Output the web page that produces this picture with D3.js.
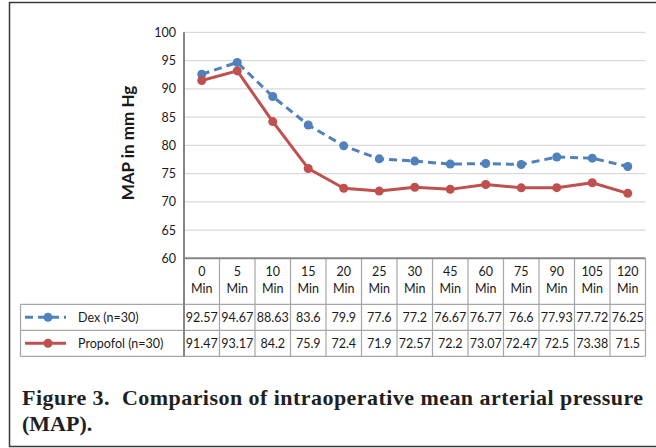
<!DOCTYPE html>
<html>
<head>
<meta charset="utf-8">
<script src="https://cdn.jsdelivr.net/npm/d3@7"></script>
<style>
  body { margin: 0; background: #fff; }
  text { font-family: Lato, "Open Sans", sans-serif; fill: #1a1a1a; }
  .cap { font-family: "Liberation Serif", "DejaVu Serif", serif; font-weight: bold; fill: #231f20; }
</style>
</head>
<body>
<div id="chart"></div>
<script>
// Data
const categories = ["0", "5", "10", "15", "20", "25", "30", "45", "60", "75", "90", "105", "120"];
const dex = [92.57, 94.67, 88.63, 83.6, 79.9, 77.6, 77.2, 76.67, 76.77, 76.6, 77.93, 77.72, 76.25];
const propofol = [91.47, 93.17, 84.2, 75.9, 72.4, 71.9, 72.57, 72.2, 73.07, 72.47, 72.5, 73.38, 71.5];
const yTicks = [60, 65, 70, 75, 80, 85, 90, 95, 100];
const seriesNames = ["Dex (n=30)", "Propofol (n=30)"];

const width = 656, height = 448;
const plot = { left: 184, right: 645.5, top: 32.3, bottom: 258.3 };
const rowH = [46, 26, 26];

const svg = d3.select("#chart").append("svg")
    .attr("width", width)
    .attr("height", height);

// Frame around the figure
svg.append("path")
    .attr("d", `M${width + 2},2.5 H9.5 V446.5 H${width + 2}`)
    .attr("fill", "none")
    .attr("stroke", "#3a3a3a")
    .attr("stroke-width", 1.5);

const x = d3.scaleBand().domain(categories).range([plot.left, plot.right]);
const y = d3.scaleLinear().domain([60, 100]).range([plot.bottom, plot.top]);

// Gridlines
svg.append("g").selectAll("line")
    .data(yTicks.filter(t => t > 60))
    .join("line")
    .attr("x1", plot.left).attr("x2", plot.right)
    .attr("y1", d => y(d)).attr("y2", d => y(d))
    .attr("stroke", "#d9d9d9")
    .attr("stroke-width", 1.2);

// Y axis
const yAxis = svg.append("g")
    .attr("transform", `translate(${plot.left},0)`)
    .call(d3.axisLeft(y).tickValues(yTicks).tickSize(0).tickPadding(8));
yAxis.select(".domain").remove();
yAxis.selectAll("text")
    .style("font-family", "Lato, sans-serif")
    .style("font-size", "12.5px")
    .attr("fill", "#1a1a1a");

svg.append("text")
    .attr("transform", `translate(134,143) rotate(-90)`)
    .attr("text-anchor", "middle")
    .style("font-size", "17px")
    .style("font-weight", "bold")
    .attr("fill", "#000")
    .text("MAP in mm Hg");

// Table
const tTop = plot.bottom;
const r1 = tTop + rowH[0], r2 = r1 + rowH[1], r3 = r2 + rowH[2];
const tableLeft = 20.5;
const tbl = svg.append("g").attr("stroke", "#a6a6a6").attr("stroke-width", 1.2);

// horizontal lines
tbl.append("line").attr("x1", tableLeft).attr("x2", plot.right).attr("y1", r1).attr("y2", r1);
tbl.append("line").attr("x1", tableLeft).attr("x2", plot.right).attr("y1", r2).attr("y2", r2);
tbl.append("line").attr("x1", tableLeft).attr("x2", plot.right).attr("y1", r3).attr("y2", r3);
tbl.append("line").attr("x1", tableLeft).attr("x2", tableLeft).attr("y1", r1).attr("y2", r3);
// column lines
tbl.selectAll(".col")
    .data(categories)
    .join("line")
    .attr("x1", d => x(d) + x.bandwidth()).attr("x2", d => x(d) + x.bandwidth())
    .attr("y1", tTop).attr("y2", r3);

// top border of table / x axis and y axis line
svg.append("line")
    .attr("x1", plot.left).attr("x2", plot.right)
    .attr("y1", tTop).attr("y2", tTop)
    .attr("stroke", "#868686").attr("stroke-width", 2);
svg.append("line")
    .attr("x1", plot.left).attr("x2", plot.left)
    .attr("y1", plot.top).attr("y2", r3)
    .attr("stroke", "#868686").attr("stroke-width", 2);

// header text
const head = svg.append("g").attr("text-anchor", "middle").style("font-size", "12.5px");
head.selectAll(".h1").data(categories).join("text")
    .attr("x", d => x(d) + x.bandwidth() / 2).attr("y", tTop + 18)
    .text(d => d);
head.selectAll(".h2").data(categories).join("text")
    .attr("x", d => x(d) + x.bandwidth() / 2).attr("y", tTop + 35)
    .text("Min");

// values
const colors = ["#4f81bd", "#c0504d"];
const series = [dex, propofol];
const rowsY = [r1, r2];
series.forEach((vals, s) => {
    svg.append("g").attr("text-anchor", "middle").style("font-size", "12.5px")
        .selectAll("text").data(vals).join("text")
        .attr("x", (d, i) => x(categories[i]) + x.bandwidth() / 2)
        .attr("y", rowsY[s] + 17.5)
        .text(d => d);

    // legend key
    const ly = rowsY[s] + 13;
    svg.append("line")
        .attr("x1", 25).attr("x2", 66).attr("y1", ly).attr("y2", ly)
        .attr("stroke", colors[s]).attr("stroke-width", 3)
        .attr("stroke-dasharray", s === 0 ? "8,5" : null);
    svg.append("circle").attr("cx", 48).attr("cy", ly).attr("r", 4.5).attr("fill", colors[s]);
    svg.append("text").attr("x", 78).attr("y", rowsY[s] + 17.5)
        .style("font-size", "12.5px").text(seriesNames[s]);
});

// lines
const line = d3.line()
    .x((d, i) => x(categories[i]) + x.bandwidth() / 2)
    .y(d => y(d));

series.forEach((vals, s) => {
    svg.append("path")
        .attr("d", line(vals))
        .attr("fill", "none")
        .attr("stroke", colors[s])
        .attr("stroke-width", 3)
        .attr("stroke-linejoin", "round")
        .attr("stroke-dasharray", s === 0 ? "8,5" : null);
    svg.append("g").selectAll("circle").data(vals).join("circle")
        .attr("cx", (d, i) => x(categories[i]) + x.bandwidth() / 2)
        .attr("cy", d => y(d))
        .attr("r", 4.5)
        .attr("fill", colors[s]);
});

// caption
svg.append("text").attr("class", "cap").attr("x", 22).attr("y", 405)
    .style("font-size", "22px")
    .attr("textLength", 621)
    .attr("lengthAdjust", "spacing")
    .text("Figure 3.\u00a0\u00a0Comparison of intraoperative mean arterial pressure");
svg.append("text").attr("class", "cap").attr("x", 22).attr("y", 431)
    .style("font-size", "22px")
    .text("(MAP).");
</script>
</body>
</html>
